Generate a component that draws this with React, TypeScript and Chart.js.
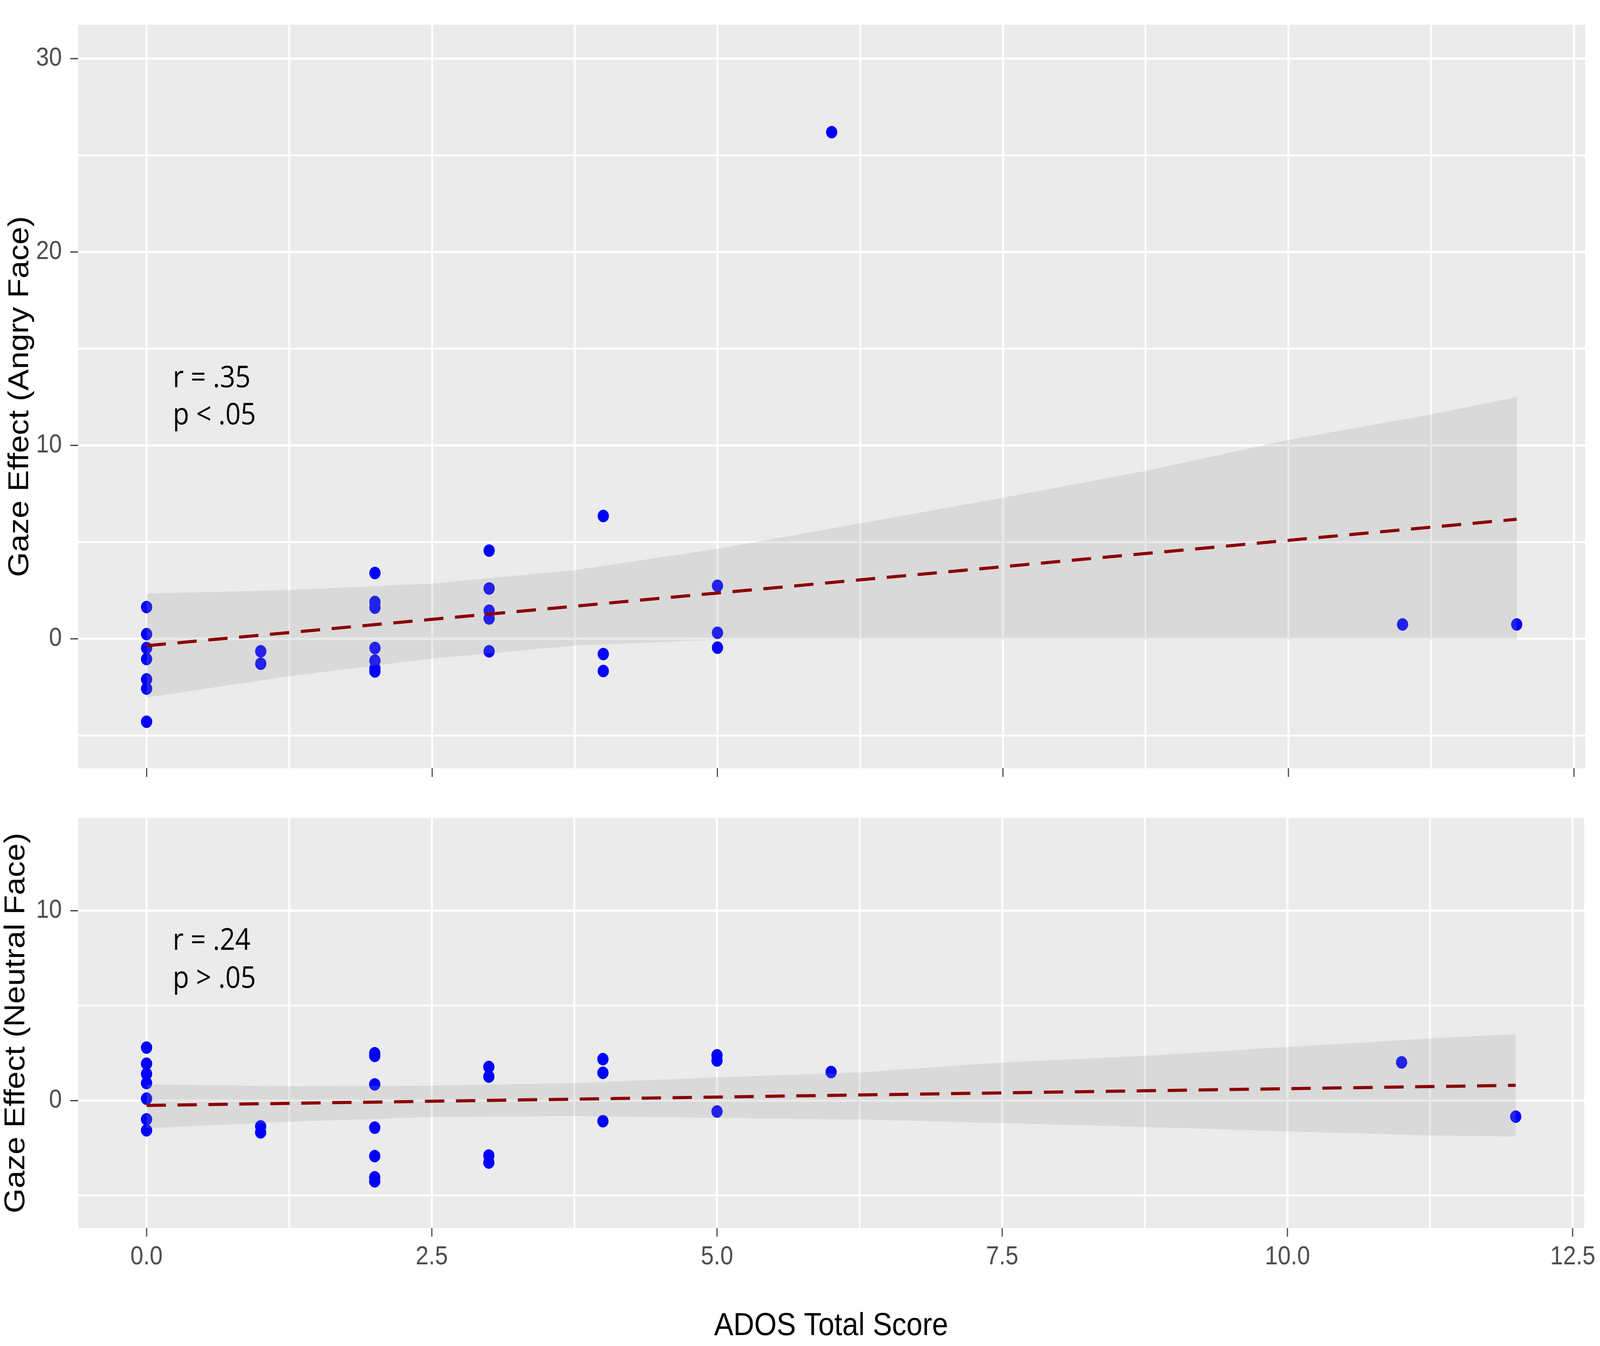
import { useEffect, useRef } from "react"
import { Chart, registerables } from "chart.js"

Chart.register(...registerables)
Chart.defaults.font.family = '"Liberation Sans", Arial, sans-serif'

// drawing size of the figure (the canvases are scaled by CSS to the window)
const FIG_W = 4550
const FIG_H = 3445

// shared x axis (ADOS Total Score)
const X_MIN = -0.6
const X_MAX = 12.6
const xMajor = [0, 2.5, 5, 7.5, 10, 12.5]
const xMinor = [1.25, 3.75, 6.25, 8.75, 11.25]
const xTickLabels = ["0.0", "2.5", "5.0", "7.5", "10.0", "12.5"]

// top panel: angry face
const angryX = [0, 0, 0, 0, 0, 0, 0, 1, 1, 2, 2, 2, 2, 2, 2, 2, 3, 3, 3, 3, 3, 4, 4, 4, 5, 5, 5, 6, 11, 12]
const angryY = [
  1.64, 0.24, -0.48, -1.05, -2.1, -2.58, -4.29,
  -0.65, -1.29,
  3.4, 1.9, 1.61, -0.48, -1.13, -1.53, -1.69,
  4.56, 2.6, 1.45, 1.05, -0.65,
  6.35, -0.79, -1.67,
  2.74, 0.31, -0.46,
  26.2, 0.74, 0.74,
]
const angryFitX = [0, 12]
const angryFitY = [-0.36, 6.18]
const angryBandX = [0, 1.25, 2.5, 3.75, 5, 6.25, 7.5, 8.75, 10, 11.25, 12]
const angryBandHigh = [2.33, 2.52, 2.85, 3.55, 4.65, 5.97, 7.29, 8.68, 10.28, 11.6, 12.5]
const angryBandLow = [-3.04, -1.94, -1.03, -0.35, -0.06, -0.06, -0.06, -0.06, -0.06, -0.06, -0.06]
const angryYMajor = [0, 10, 20, 30]
const angryYMinor = [-5, 5, 15, 25]
const angryNotes = ["r = .35", "p < .05"]
const angryNoteY = [13.02, 11.09]

// bottom panel: neutral face
const neutralX = [0, 0, 0, 0, 0, 0, 0, 1, 1, 2, 2, 2, 2, 2, 2, 2, 3, 3, 3, 3, 4, 4, 4, 5, 5, 5, 6, 11, 12]
const neutralY = [
  2.79, 1.94, 1.4, 0.92, 0.1, -0.99, -1.57,
  -1.36, -1.68,
  2.49, 2.35, 0.85, -1.43, -2.93, -4.05, -4.26,
  1.77, 1.26, -2.9, -3.27,
  2.18, 1.46, -1.09,
  2.38, 2.11, -0.58,
  1.5, 2.01, -0.85,
]
const neutralFitX = [0, 12]
const neutralFitY = [-0.26, 0.8]
const neutralBandX = [0, 1.25, 2.5, 3.75, 5, 6.25, 7.5, 8.75, 10, 11.25, 12]
const neutralBandHigh = [0.85, 0.75, 0.78, 0.92, 1.22, 1.48, 2.0, 2.35, 2.82, 3.27, 3.5]
const neutralBandLow = [-1.46, -1.12, -0.87, -0.82, -0.92, -1.0, -1.19, -1.39, -1.63, -1.84, -1.9]
const neutralYMajor = [0, 10]
const neutralYMinor = [-5, 5]
const neutralNotes = ["r = .24", "p > .05"]
const neutralNoteY = [7.94, 5.94]

const NOTE_X = 0.23

const toPoints = (xs, ys) => xs.map((x, i) => ({ x, y: ys[i] }))

const panelBackground = {
  id: "panelBackground",
  beforeDraw(chart) {
    const { ctx, chartArea } = chart
    ctx.save()
    ctx.fillStyle = "#EBEBEB"
    ctx.fillRect(chartArea.left, chartArea.top, chartArea.right - chartArea.left, chartArea.bottom - chartArea.top)
    ctx.restore()
  },
}

function notesPlugin(lines, ys) {
  return {
    id: "notes",
    afterDatasetsDraw(chart) {
      const { ctx, scales } = chart
      ctx.save()
      ctx.fillStyle = "#000000"
      ctx.font = '76px "Open Sans", sans-serif'
      ctx.textAlign = "left"
      ctx.textBaseline = "alphabetic"
      lines.forEach((text, i) => {
        ctx.fillText(text, scales.x.getPixelForValue(NOTE_X), scales.y.getPixelForValue(ys[i]))
      })
      ctx.restore()
    },
  }
}

function Panel({ spec, top, height, sx, sy }) {
  const chartRef = useRef(null)
  const chartInstance = useRef(null)

  useEffect(() => {
    if (!chartRef.current) return
    if (chartInstance.current) chartInstance.current.destroy()

    const xAll = [...xMajor, ...xMinor].sort((a, b) => a - b)
    const yAll = [...spec.yMajor, ...spec.yMinor].sort((a, b) => a - b)
    const isMajorX = (v) => xMajor.includes(v)
    const isMajorY = (v) => spec.yMajor.includes(v)

    chartInstance.current = new Chart(chartRef.current.getContext("2d"), {
      type: "scatter",
      data: {
        datasets: [
          {
            data: toPoints(spec.xs, spec.ys),
            backgroundColor: "#0000FF",
            borderWidth: 0,
            pointRadius: 16,
            order: 3,
          },
          {
            data: toPoints(spec.bandX, spec.bandLow),
            showLine: true,
            borderColor: "rgba(0,0,0,0)",
            borderWidth: 0,
            pointRadius: 0,
            fill: false,
            order: 2,
          },
          {
            data: toPoints(spec.bandX, spec.bandHigh),
            showLine: true,
            borderColor: "rgba(0,0,0,0)",
            borderWidth: 0,
            pointRadius: 0,
            fill: "-1",
            backgroundColor: "rgba(153,153,153,0.22)",
            order: 1,
          },
          {
            data: toPoints(spec.fitX, spec.fitY),
            showLine: true,
            borderColor: "#8B0000",
            borderWidth: 8,
            borderDash: [55, 33],
            pointRadius: 0,
            fill: false,
            order: 0,
          },
        ],
      },
      options: {
        animation: false,
        responsive: false,
        devicePixelRatio: 1,
        events: [],
        layout: { padding: { top: spec.padTop, right: 42, left: 0, bottom: 0 } },
        plugins: { legend: { display: false }, tooltip: { enabled: false } },
        scales: {
          x: {
            type: "linear",
            min: X_MIN,
            max: X_MAX,
            afterBuildTicks: (axis) => {
              axis.ticks = xAll.map((value) => ({ value }))
            },
            afterFit: (axis) => {
              axis.height = spec.xAxisHeight
            },
            ticks: {
              autoSkip: false,
              maxRotation: 0,
              padding: 13,
              color: "#4D4D4D",
              font: { size: 66 },
              callback: (v) => (spec.showXLabels && isMajorX(v) ? xTickLabels[xMajor.indexOf(v)] : ""),
            },
            grid: {
              color: "#FFFFFF",
              lineWidth: (ctx) => (ctx.tick && isMajorX(ctx.tick.value) ? 6 : 5),
              drawTicks: true,
              tickLength: 22,
              tickWidth: 3,
              tickColor: (ctx) => (ctx.tick && isMajorX(ctx.tick.value) ? "#333333" : "rgba(0,0,0,0)"),
            },
            border: { display: false },
            title: {
              display: spec.showXLabels,
              text: "ADOS Total Score",
              color: "#000000",
              font: { size: 82, lineHeight: 1.2 },
              padding: { top: 0, bottom: 1 },
            },
          },
          y: {
            type: "linear",
            min: spec.yMin,
            max: spec.yMax,
            afterBuildTicks: (axis) => {
              axis.ticks = yAll.map((value) => ({ value }))
            },
            afterFit: (axis) => {
              axis.width = 222
            },
            ticks: {
              autoSkip: false,
              padding: 24,
              color: "#4D4D4D",
              font: { size: 66 },
              callback: (v) => (isMajorY(v) ? String(v) : ""),
            },
            grid: {
              color: "#FFFFFF",
              lineWidth: (ctx) => (ctx.tick && isMajorY(ctx.tick.value) ? 6 : 5),
              drawTicks: true,
              tickLength: 22,
              tickWidth: 3,
              tickColor: (ctx) => (ctx.tick && isMajorY(ctx.tick.value) ? "#333333" : "rgba(0,0,0,0)"),
            },
            border: { display: false },
            title: {
              display: true,
              text: spec.yTitle,
              color: "#000000",
              font: { size: 82, lineHeight: 1.0 },
              padding: { top: spec.yTitlePad, bottom: 0 },
            },
          },
        },
      },
      plugins: [panelBackground, notesPlugin(spec.notes, spec.noteY)],
    })

    return () => {
      if (chartInstance.current) {
        chartInstance.current.destroy()
        chartInstance.current = null
      }
    }
  }, [spec])

  // the bitmap keeps the figure's own pixel size; CSS fits it into the window
  return (
    <canvas
      ref={chartRef}
      width={FIG_W}
      height={height}
      style={{
        position: "absolute",
        left: 0,
        top: top * sy,
        width: FIG_W * sx,
        height: height * sy,
        display: "block",
      }}
    ></canvas>
  )
}

const angrySpec = {
  xs: angryX,
  ys: angryY,
  fitX: angryFitX,
  fitY: angryFitY,
  bandX: angryBandX,
  bandLow: angryBandLow,
  bandHigh: angryBandHigh,
  yMin: -6.7,
  yMax: 31.75,
  yMajor: angryYMajor,
  yMinor: angryYMinor,
  yTitle: "Gaze Effect (Angry Face)",
  yTitlePad: 16,
  notes: angryNotes,
  noteY: angryNoteY,
  showXLabels: false,
  xAxisHeight: 28,
  padTop: 23,
}

const neutralSpec = {
  xs: neutralX,
  ys: neutralY,
  fitX: neutralFitX,
  fitY: neutralFitY,
  bandX: neutralBandX,
  bandLow: neutralBandLow,
  bandHigh: neutralBandHigh,
  yMin: -6.72,
  yMax: 14.89,
  yMajor: neutralYMajor,
  yMinor: neutralYMinor,
  yTitle: "Gaze Effect (Neutral Face)",
  yTitlePad: 5,
  notes: neutralNotes,
  noteY: neutralNoteY,
  showXLabels: true,
  xAxisHeight: 302,
  padTop: 0,
}

export default function App() {
  const winW = window.innerWidth || FIG_W
  const winH = window.innerHeight || FIG_H
  const sx = winW / FIG_W
  const sy = winH / FIG_H
  return (
    <div
      style={{
        position: "absolute",
        left: 0,
        top: 0,
        width: FIG_W * sx,
        height: FIG_H * sy,
        background: "#FFFFFF",
        overflow: "hidden",
      }}
    >
      <Panel spec={angrySpec} top={0} height={2030} sx={sx} sy={sy} />
      <Panel spec={neutralSpec} top={2030} height={1415} sx={sx} sy={sy} />
    </div>
  )
}
